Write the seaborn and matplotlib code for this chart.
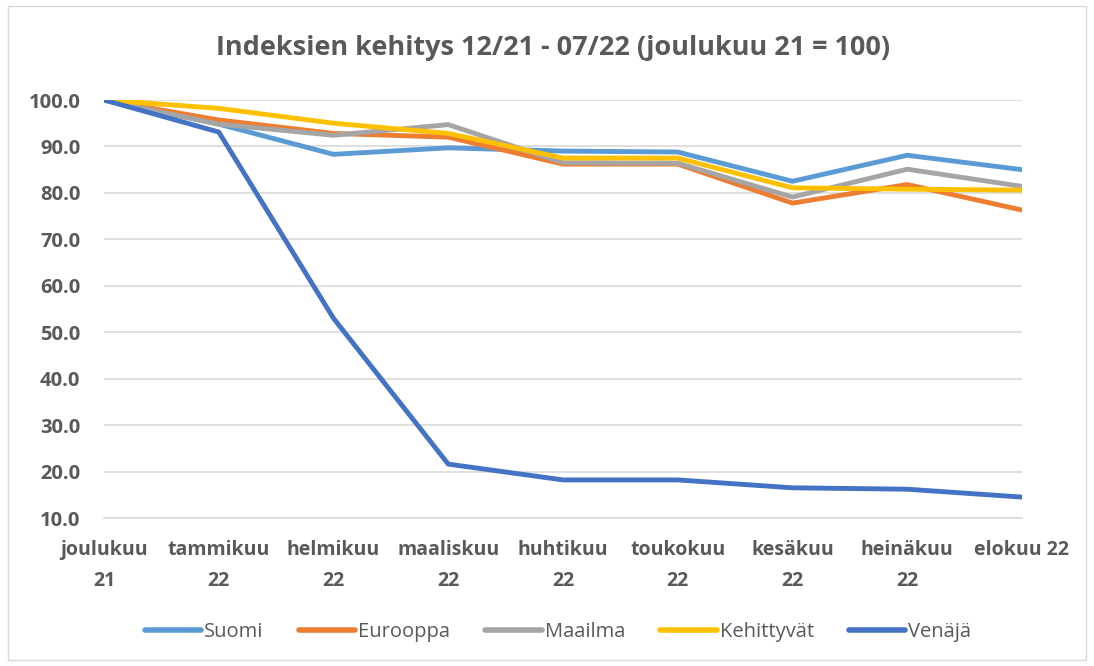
import pandas as pd
import matplotlib.pyplot as plt
import seaborn as sns
from matplotlib.patches import Rectangle

# Kuukaudet (x-akseli)
months = ['joulukuu\n21', 'tammikuu\n22', 'helmikuu\n22', 'maaliskuu\n22', 'huhtikuu\n22',
          'toukokuu\n22', 'kesäkuu\n22', 'heinäkuu\n22', 'elokuu 22']

# Indeksit (joulukuu 21 = 100)
suomi = [100, 94.8, 88.3, 89.7, 89.0, 88.8, 82.5, 88.1, 85.0]
eurooppa = [100, 95.7, 92.8, 92.0, 86.2, 86.2, 77.8, 81.8, 76.3]
maailma = [100, 94.8, 92.4, 94.7, 86.5, 86.4, 79.1, 85.1, 81.4]
kehittyvat = [100, 98.2, 95.0, 92.8, 87.5, 87.5, 81.1, 80.8, 80.6]
venaja = [100, 93.1, 53.0, 21.6, 18.2, 18.2, 16.5, 16.2, 14.5]

series = {'Suomi': suomi, 'Eurooppa': eurooppa, 'Maailma': maailma,
          'Kehittyvät': kehittyvat, 'Venäjä': venaja}
colors = ['#5B9BD5', '#ED7D31', '#A5A5A5', '#FFC000', '#4472C4']

records = []
for name, vals in series.items():
    for i, v in enumerate(vals):
        records.append({'Kuukausi': i, 'Sarja': name, 'Arvo': v})
df = pd.DataFrame(records)

sns.set_style('white')
plt.rcParams['font.family'] = ['Open Sans', 'DejaVu Sans']
text_col = '#595959'

fig = plt.figure(figsize=(10.94, 6.66), dpi=100)
ax = fig.add_axes([104 / 1094, 1 - 518 / 666, (1022 - 104) / 1094, (518 - 100) / 666])

sns.lineplot(data=df, x='Kuukausi', y='Arvo', hue='Sarja', palette=colors,
             linewidth=3.5, ax=ax, legend=True)

ax.set_xlim(0, len(months) - 1)
ax.set_ylim(10, 100)
ax.set_yticks(range(10, 101, 10))
ax.set_yticklabels([f'{v:.1f}' for v in range(10, 101, 10)],
                   fontsize=14.5, fontweight='bold', color=text_col)
ax.set_xticks(range(len(months)))
ax.set_xticklabels(months, fontsize=14, fontweight='bold', color=text_col,
                   linespacing=1.75)
ax.grid(axis='y', color='#D9D9D9', linewidth=1.2)
ax.set_axisbelow(True)
for s in ['top', 'right', 'left']:
    ax.spines[s].set_visible(False)
ax.spines['bottom'].set_color('#D9D9D9')
ax.spines['bottom'].set_linewidth(1.2)
ax.tick_params(axis='x', length=7, width=1.2, color='#D9D9D9', pad=9)
ax.tick_params(axis='y', length=0, pad=17)
ax.set_xlabel('')
ax.set_ylabel('')

fig.text(553 / 1094, 1 - 48 / 666, 'Indeksien kehitys 12/21 - 07/22 (joulukuu 21 = 100)',
         ha='center', va='center', fontsize=19.5, fontweight='bold', color=text_col)

handles, labels = ax.get_legend_handles_labels()
for h in handles:
    h.set_linewidth(4)
    h.set_solid_capstyle('round')
ax.legend(handles, labels, loc='center', bbox_to_anchor=(558 / 1094, 1 - 632 / 666),
          bbox_transform=fig.transFigure, ncol=5, frameon=False,
          fontsize=14.5, labelcolor=text_col, handlelength=2.8,
          handletextpad=0.15, columnspacing=1.75)

fig.patches.append(Rectangle((8 / 1094, 6 / 666), 1078 / 1094, 654 / 666,
                             transform=fig.transFigure, fill=False,
                             edgecolor='#D9D9D9', linewidth=1))

fig.savefig('out.png', dpi=100)
